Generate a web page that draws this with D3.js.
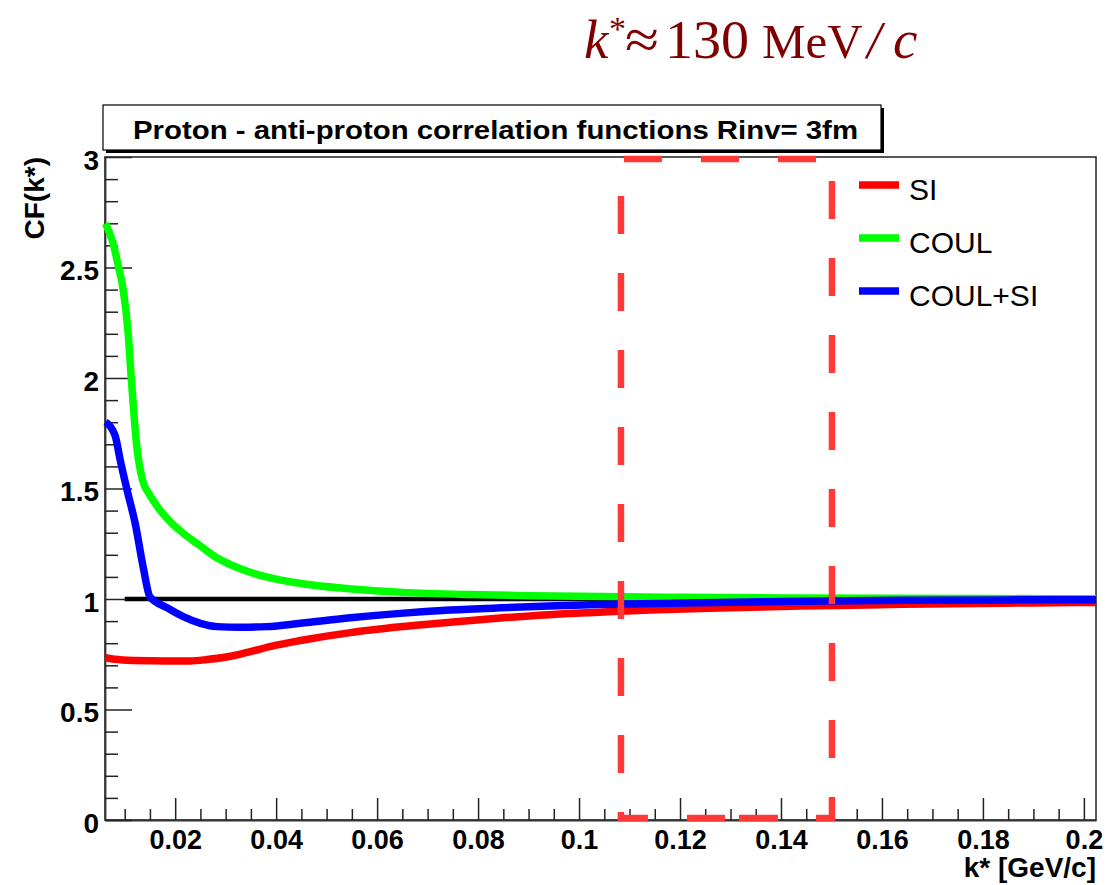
<!DOCTYPE html>
<html>
<head>
<meta charset="utf-8">
<script src="https://cdn.jsdelivr.net/npm/d3@7"></script>
<style>
  html, body { margin: 0; padding: 0; background: #fff; }
  svg { display: block; }
</style>
</head>
<body>
<script>
// ---------------- data ----------------
const chartTitle = "Proton - anti-proton correlation functions Rinv= 3fm";
const seriesNames = ["SI", "COUL", "COUL+SI"];
const seriesColors = ["#ff0000", "#00ff00", "#0000ff"];

const kSI  = [0.0062, 0.0080, 0.0117, 0.0180, 0.0230, 0.0263, 0.0315, 0.0349, 0.0398, 0.0448, 0.0547, 0.0646, 0.0745, 0.0844, 0.094, 0.104, 0.114, 0.124, 0.134, 0.144, 0.154, 0.164, 0.174, 0.184, 0.194, 0.2024];
const cfSI = [0.735, 0.727, 0.722, 0.720, 0.720, 0.726, 0.743, 0.762, 0.790, 0.812, 0.848, 0.874, 0.895, 0.914, 0.929, 0.940, 0.950, 0.957, 0.963, 0.968, 0.972, 0.976, 0.978, 0.981, 0.983, 0.984];

const kCOUL  = [0.0062, 0.0077, 0.0088, 0.0097, 0.0107, 0.0113, 0.0124, 0.0135, 0.0150, 0.0164, 0.0190, 0.0220, 0.0250, 0.0280, 0.0310, 0.0350, 0.0400, 0.0450, 0.0550, 0.0650, 0.0780, 0.0900, 0.1000, 0.1200, 0.1400, 0.1600, 0.1800, 0.2024];
const cfCOUL = [2.70, 2.61, 2.50, 2.40, 2.20, 2.00, 1.69, 1.54, 1.47, 1.42, 1.35, 1.29, 1.24, 1.19, 1.155, 1.12, 1.09, 1.07, 1.045, 1.030, 1.020, 1.015, 1.012, 1.008, 1.005, 1.003, 1.002, 1.001];

const kCOULSI  = [0.0062, 0.0081, 0.0091, 0.0105, 0.0121, 0.0137, 0.0150, 0.0184, 0.0216, 0.0250, 0.0283, 0.0330, 0.0382, 0.0448, 0.0547, 0.0646, 0.0745, 0.0844, 0.094, 0.104, 0.124, 0.144, 0.164, 0.184, 0.2024];
const cfCOULSI = [1.80, 1.74, 1.63, 1.49, 1.34, 1.14, 1.01, 0.96, 0.92, 0.89, 0.875, 0.872, 0.875, 0.89, 0.915, 0.935, 0.95, 0.96, 0.968, 0.975, 0.983, 0.990, 0.994, 0.996, 0.997];

const refLineK = [0.01, 0.2024];
const refLineCF = [1, 1];

const xMajorTicks = [0.02, 0.04, 0.06, 0.08, 0.10, 0.12, 0.14, 0.16, 0.18, 0.20];
const xTickLabels = ["0.02", "0.04", "0.06", "0.08", "0.1", "0.12", "0.14", "0.16", "0.18", "0.2"];
const yMajorTicks = [0, 0.5, 1, 1.5, 2, 2.5, 3];
const yTickLabels = ["0", "0.5", "1", "1.5", "2", "2.5", "3"];

const boxK = [0.1083, 0.1501];   // highlighted k* window (annotation)

// ---------------- layout ----------------
const W = 1118, H = 885;
const svg = d3.select("body").append("svg").attr("width", W).attr("height", H);
svg.append("rect").attr("width", W).attr("height", H).attr("fill", "#fff");

const x = d3.scaleLinear().domain([0.0061, 0.2024]).range([105, 1096]);
const y = d3.scaleLinear().domain([0, 3]).range([820, 157]);

const sans = "'Liberation Sans', Arial, Helvetica, sans-serif";
const serif = "'Liberation Serif', 'Times New Roman', serif";

// frame
svg.append("rect")
  .attr("x", x.range()[0]).attr("y", y.range()[1])
  .attr("width", x.range()[1] - x.range()[0]).attr("height", y.range()[0] - y.range()[1])
  .attr("fill", "none").attr("stroke", "#222").attr("stroke-width", 1.5);

// x axis
const xMinor = d3.range(0.01, 0.2001, 0.005).filter(v => !xMajorTicks.some(m => Math.abs(m - v) < 1e-9));
const xAxisMajor = d3.axisBottom(x).tickValues(xMajorTicks).tickSizeInner(-22).tickSizeOuter(0)
  .tickFormat((d, i) => xTickLabels[i]).tickPadding(6);
const gx = svg.append("g").attr("transform", `translate(0,${y(0)})`).call(xAxisMajor);
gx.select(".domain").attr("stroke", "#333").attr("stroke-width", 1.8);
gx.selectAll(".tick line").attr("stroke", "#222").attr("stroke-width", 1.5);
gx.selectAll(".tick text").attr("font-family", sans).attr("font-weight", "bold")
  .attr("font-size", 27).attr("fill", "#000").attr("y", 29).attr("dy", 0);
const xAxisMinor = d3.axisBottom(x).tickValues(xMinor).tickSizeInner(-11).tickSizeOuter(0).tickFormat("");
const gxm = svg.append("g").attr("transform", `translate(0,${y(0)})`).call(xAxisMinor);
gxm.select(".domain").remove();
gxm.selectAll(".tick line").attr("stroke", "#222").attr("stroke-width", 1.5);

// y axis
const yMinor = d3.range(0.1, 2.95, 0.1).filter(v => !yMajorTicks.some(m => Math.abs(m - v) < 1e-9));
const yAxisMajor = d3.axisLeft(y).tickValues(yMajorTicks).tickSizeInner(-27).tickSizeOuter(0)
  .tickFormat((d, i) => yTickLabels[i]);
const gy = svg.append("g").attr("transform", `translate(${x.range()[0]},0)`).call(yAxisMajor);
gy.select(".domain").attr("stroke", "#333").attr("stroke-width", 1.8);
gy.selectAll(".tick line").attr("stroke", "#222").attr("stroke-width", 1.5);
gy.selectAll(".tick text").attr("font-family", sans).attr("font-weight", "bold")
  .attr("font-size", 28).attr("fill", "#000").attr("x", -6).attr("dy", 0).attr("y", 12);
const yAxisMinor = d3.axisLeft(y).tickValues(yMinor).tickSizeInner(-13).tickSizeOuter(0).tickFormat("");
const gym = svg.append("g").attr("transform", `translate(${x.range()[0]},0)`).call(yAxisMinor);
gym.select(".domain").remove();
gym.selectAll(".tick line").attr("stroke", "#222").attr("stroke-width", 1.5);

// axis titles
svg.append("text").attr("transform", `translate(44,${y(3)}) rotate(-90)`)
  .attr("text-anchor", "end").attr("font-family", sans).attr("font-weight", "bold")
  .attr("font-size", 28).text("CF(k*)");
svg.append("text").attr("x", x.range()[1]).attr("y", 877)
  .attr("text-anchor", "end").attr("font-family", sans).attr("font-weight", "bold")
  .attr("font-size", 28).text("k* [GeV/c]");

// reference line at CF = 1
const straight = d3.line().x(d => x(d[0])).y(d => y(d[1]));
svg.append("path").datum(refLineK.map((k, i) => [k, refLineCF[i]]))
  .attr("d", straight).attr("fill", "none").attr("stroke", "#000").attr("stroke-width", 4.5);

// curves
const curve = d3.line().x(d => x(d[0])).y(d => y(d[1])).curve(d3.curveMonotoneX);
const series = [
  [kSI, cfSI], [kCOUL, cfCOUL], [kCOULSI, cfCOULSI]
];
series.forEach(([ks, vs], i) => {
  svg.append("path").datum(ks.map((k, j) => [k, vs[j]]))
    .attr("d", curve).attr("fill", "none").attr("stroke", seriesColors[i])
    .attr("stroke-width", 7.5).attr("stroke-linejoin", "round");
});

// legend
const legY = [185, 238, 291];
seriesNames.forEach((name, i) => {
  svg.append("line").attr("x1", 859).attr("x2", 899).attr("y1", legY[i]).attr("y2", legY[i])
    .attr("stroke", seriesColors[i]).attr("stroke-width", 7.5);
  svg.append("text").attr("x", 909).attr("y", legY[i] + 15)
    .attr("font-family", sans).attr("font-size", 30).attr("fill", "#000").text(name);
});

// title box
svg.append("rect").attr("x", 106).attr("y", 108).attr("width", 778).attr("height", 45).attr("fill", "#000");
svg.append("rect").attr("x", 103).attr("y", 105).attr("width", 778).attr("height", 45)
  .attr("fill", "#fff").attr("stroke", "#000").attr("stroke-width", 1.2);
svg.append("text").attr("x", 133).attr("y", 139)
  .attr("font-family", sans).attr("font-weight", "bold").attr("font-size", 25)
  .attr("textLength", 725).attr("lengthAdjust", "spacingAndGlyphs").text(chartTitle);

// dashed highlight box
const bx0 = x(boxK[0]), bx1 = x(boxK[1]), by0 = 159, by1 = 818;
const dashCol = "#ff3838", dashW = 6.5;
function dashed(x1, y1, x2, y2, arr, off) {
  svg.append("line").attr("x1", x1).attr("y1", y1).attr("x2", x2).attr("y2", y2)
    .attr("stroke", dashCol).attr("stroke-width", dashW)
    .attr("stroke-dasharray", arr).attr("stroke-dashoffset", off);
}
dashed(bx0, by0, bx1 + 3, by0, "38 39", 74);
dashed(bx0, by0, bx0, by1 + 3, "38 39", 40);
dashed(bx1, by0, bx1, by1 + 3, "38 39", 55);
dashed(bx0 - 3, by1, bx1 + 3, by1, "30 39 38 14 39 38 30", 0);

// annotation
const annCol = "#7f0000", annBase = 58;
function ann(xp, txt, opts = {}) {
  const t = svg.append("text").attr("x", xp).attr("y", opts.y || annBase)
    .attr("font-family", serif).attr("font-size", opts.size || 55).attr("fill", annCol)
    .attr("font-style", opts.italic ? "italic" : "normal").text(txt);
  if (opts.len) t.attr("textLength", opts.len).attr("lengthAdjust", "spacingAndGlyphs");
}
ann(584, "k", { italic: true });
ann(609, "*", { size: 34, y: 40 });
ann(625, "\u2248", { len: 34 });
ann(665, "130", { len: 84 });
ann(762, "MeV", { size: 49 });
ann(867, "/", { size: 52, italic: true });
ann(893, "c", { italic: true });
</script>
</body>
</html>
